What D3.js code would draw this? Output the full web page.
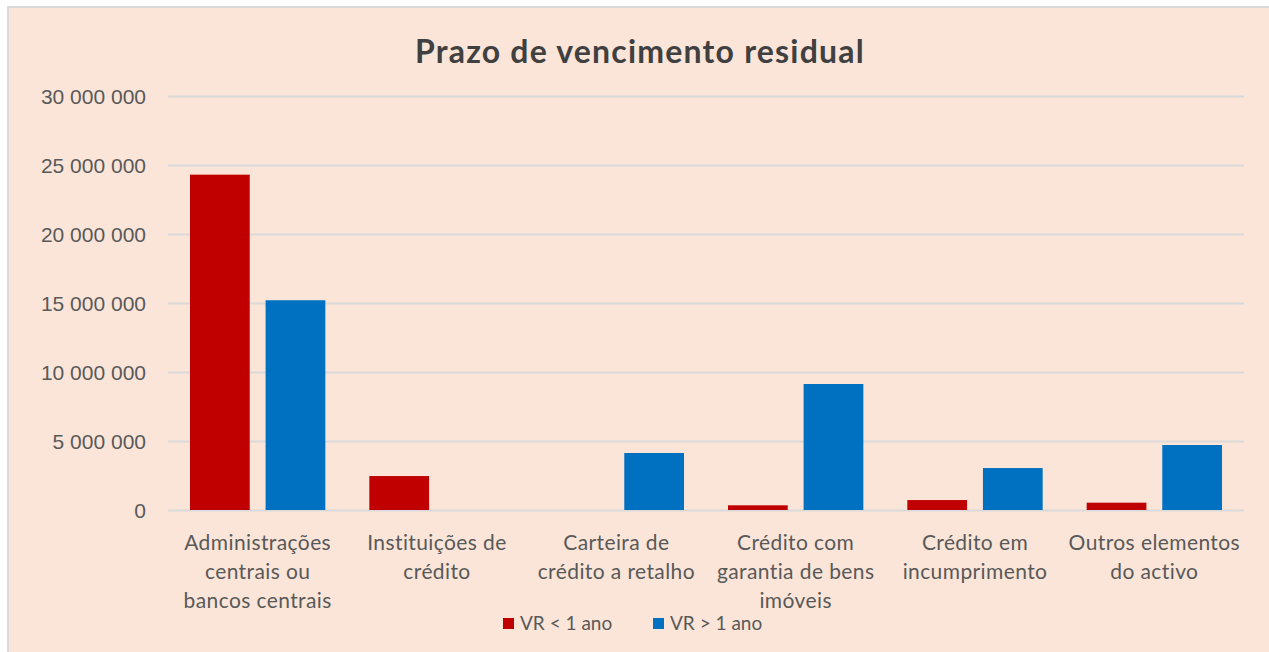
<!DOCTYPE html>
<html>
<head>
<meta charset="utf-8">
<script src="https://cdn.jsdelivr.net/npm/d3@7"></script>
<style>
  body { margin: 0; background: #fff; }
  svg { display: block; font-family: Lato, "Open Sans", sans-serif; }
  .tick line { stroke: #d9d9d9; stroke-width: 2px; }
  .tick text { fill: #595959; font-size: 21px; }
</style>
</head>
<body>
<div id="chart"></div>
<script>
const categories = [
  ["Administrações", "centrais ou", "bancos centrais"],
  ["Instituições de", "crédito"],
  ["Carteira de", "crédito a retalho"],
  ["Crédito com", "garantia de bens", "imóveis"],
  ["Crédito em", "incumprimento"],
  ["Outros elementos", "do activo"]
];
const seriesNames = ["VR < 1 ano", "VR > 1 ano"];
const lessThanOneYear = [24300000, 2460000, 0, 340000, 720000, 530000];
const moreThanOneYear = [15200000, 0, 4130000, 9130000, 3040000, 4710000];
const yTicks = [0, 5000000, 10000000, 15000000, 20000000, 25000000, 30000000];
const colors = ["#c00000", "#0070c0"];

const width = 1269, height = 652;
const margin = {left: 168, right: 25, top: 96, bottom: 142};

const svg = d3.select("#chart").append("svg")
  .attr("width", width).attr("height", height);

svg.append("rect")
  .attr("x", 8).attr("y", 7)
  .attr("width", width).attr("height", height)
  .attr("fill", "#fae5d8")
  .attr("stroke", "#d9d9d9").attr("stroke-width", 2);

svg.append("text")
  .attr("x", 640).attr("y", 63)
  .attr("text-anchor", "middle")
  .attr("font-size", 32).attr("font-weight", "bold")
  .attr("letter-spacing", 1.2)
  .attr("fill", "#404040")
  .text("Prazo de vencimento residual");

const x = d3.scaleBand()
  .domain(d3.range(categories.length))
  .range([margin.left, width - margin.right])
  .paddingInner(0).paddingOuter(0);

const x1 = d3.scaleBand()
  .domain([0, 1])
  .range([22, x.bandwidth() - 22])
  .paddingInner(0.21);

const y = d3.scaleLinear()
  .domain([0, 30000000])
  .range([height - margin.bottom, margin.top]);

const fmt = v => d3.format(",")(v).replace(/,/g, " ");

svg.append("g")
  .attr("transform", `translate(${margin.left},0)`)
  .call(d3.axisLeft(y).tickValues(yTicks).tickFormat(fmt)
    .tickSize(-(width - margin.left - margin.right)).tickPadding(22))
  .call(g => g.select(".domain").remove())
  .call(g => g.selectAll(".tick text").attr("x", -22).attr("dy", "0.35em"));

const series = [lessThanOneYear, moreThanOneYear];
const groups = svg.append("g").selectAll("g")
  .data(categories)
  .join("g")
  .attr("transform", (d, i) => `translate(${x(i)},0)`);

groups.selectAll("rect")
  .data((d, i) => series.map((s, k) => ({k, v: s[i]})))
  .join("rect")
  .attr("x", d => x1(d.k))
  .attr("width", x1.bandwidth())
  .attr("y", d => y(d.v))
  .attr("height", d => y(0) - y(d.v))
  .attr("fill", d => colors[d.k]);

const labels = svg.append("g").selectAll("text")
  .data(categories)
  .join("text")
  .attr("x", (d, i) => x(i) + x.bandwidth() / 2)
  .attr("y", 550)
  .attr("text-anchor", "middle")
  .attr("font-size", 21)
  .attr("letter-spacing", 0.4)
  .attr("fill", "#595959");
labels.selectAll("tspan")
  .data(d => d)
  .join("tspan")
  .attr("x", function() { return this.parentNode.getAttribute("x"); })
  .attr("dy", (d, i) => i === 0 ? 0 : 29)
  .text(d => d);

const legendX = [503, 653];
const legend = svg.append("g").selectAll("g")
  .data(seriesNames)
  .join("g")
  .attr("transform", (d, i) => `translate(${legendX[i]},618)`);
legend.append("rect")
  .attr("width", 11).attr("height", 11)
  .attr("fill", (d, i) => colors[i]);
legend.append("text")
  .attr("x", 17).attr("y", 12)
  .attr("font-size", 19)
  .attr("fill", "#595959")
  .text(d => d);
</script>
</body>
</html>
